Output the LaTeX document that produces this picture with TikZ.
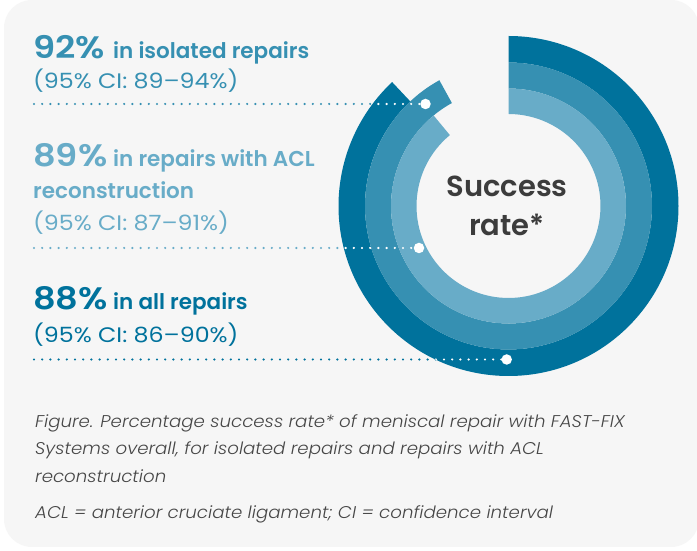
\documentclass[tikz,border=0pt]{standalone}
\usepackage{fontspec}
\setmainfont{Poppins}[BoldFont={Poppins SemiBold}, ItalicFont={Poppins Light Italic}]
\usetikzlibrary{calc}
\definecolor{cdark}{RGB}{0,114,156}
\definecolor{cmid}{RGB}{54,144,178}
\definecolor{clight}{RGB}{104,172,200}
\definecolor{panelbg}{RGB}{246,246,246}
\definecolor{captxt}{RGB}{70,70,70}
\definecolor{srtxt}{RGB}{60,60,60}
\begin{document}
\begin{tikzpicture}[x=1pt,y=1pt,
  dotline/.style={line width=2.4pt, line cap=round, dash pattern=on 0pt off 8.2pt},
  enddot/.style={circle, fill=white, minimum size=10.5pt, inner sep=0pt},
  bigpct/.style={anchor=base west, inner sep=0pt, font=\bfseries\fontsize{31}{31}\selectfont\addfontfeatures{FakeStretch=1.14}},
  headtxt/.style={anchor=base west, inner sep=0pt, font=\bfseries\fontsize{21.5}{21.5}\selectfont},
  citxt/.style={anchor=base west, inner sep=0pt, font=\fontsize{21}{21}\selectfont\addfontfeatures{FakeStretch=1.13}},
  captline/.style={anchor=base west, inner sep=0pt, text=captxt, font=\itshape\fontsize{17}{17}\selectfont\addfontfeatures{FakeStretch=1.07}},
  srline/.style={anchor=base, inner sep=0pt, text=srtxt, font=\bfseries\fontsize{29}{29}\selectfont}
]
\useasboundingbox (0,0) rectangle (697,551);
\fill[white] (0,0) rectangle (697,551);
\fill[panelbg, rounded corners=28pt] (4,4) rectangle (699,551);

% rings
\coordinate (C) at (508.5,345);
\fill[cdark] ([shift={(90:170)}]C) arc[start angle=90, end angle=-226.8, radius=170]
  -- ([shift={(-226.8:143.5)}]C) arc[start angle=-226.8, end angle=90, radius=143.5] -- cycle;
\fill[cmid] ([shift={(90:143.5)}]C) arc[start angle=90, end angle=-241.2, radius=143.5]
  -- ([shift={(-241.2:117.5)}]C) arc[start angle=-241.2, end angle=90, radius=117.5] -- cycle;
\fill[clight] ([shift={(90:117.5)}]C) arc[start angle=90, end angle=-230.4, radius=117.5]
  -- ([shift={(-230.4:92)}]C) arc[start angle=-230.4, end angle=90, radius=92] -- cycle;

% leader lines
\coordinate (s1) at (34,447);
\coordinate (s2) at (34,303);
\coordinate (s3) at (34,191.5);
\coordinate (p1) at (425.5,447);
\coordinate (p2) at (419,303);
\coordinate (p3) at (506.7,191.5);
\draw[dotline, cmid] (s1) -- (p1);
\draw[dotline, clight] (s2) -- (p2);
\draw[dotline, cdark] (s3) -- (p3);
\begin{scope}
  \clip (C) circle[radius=170];
  \draw[dotline, white] (s1) -- (p1);
  \draw[dotline, white] (s2) -- (p2);
  \draw[dotline, white] (s3) -- (p3);
\end{scope}
\node[enddot] (d1) at (p1) {};
\node[enddot] (d2) at (p2) {};
\node[enddot] (d3) at (p3) {};

% centre text
\node[srline] (sr1) at (507,354.3) {Success};
\node[srline] (sr2) at (507,315) {rate*};

% labels
\node[bigpct, text=cmid] (a1) at (33,492.7) {92\%};
\node[headtxt, text=cmid] (a2) at (113,492.7) {in isolated repairs};
\node[citxt, text=cmid] (a3) at (33,462.5) {(95\% CI: 89–94\%)};

\node[bigpct, text=clight] (b1) at (33,384.3) {89\%};
\node[headtxt, text=clight] (b2) at (113,384.3) {in repairs with ACL};
\node[headtxt, text=clight] (b3) at (33,352) {reconstruction};
\node[citxt, text=clight] (b4) at (33,320) {(95\% CI: 87–91\%)};

\node[bigpct, text=cdark] (c1) at (33,241) {88\%};
\node[headtxt, text=cdark] (c2) at (113,241) {in all repairs};
\node[citxt, text=cdark] (c3) at (33,208) {(95\% CI: 86–90\%)};

% caption
\node[captline] (f1) at (35,123.7) {Figure. Percentage success rate* of meniscal repair with FAST-FIX};
\node[captline] (f2) at (35,96) {Systems overall, for isolated repairs and repairs with ACL};
\node[captline] (f3) at (35,68.3) {reconstruction};
\node[captline] (f4) at (35,32.7) {ACL = anterior cruciate ligament; CI = confidence interval};
\end{tikzpicture}
\end{document}
